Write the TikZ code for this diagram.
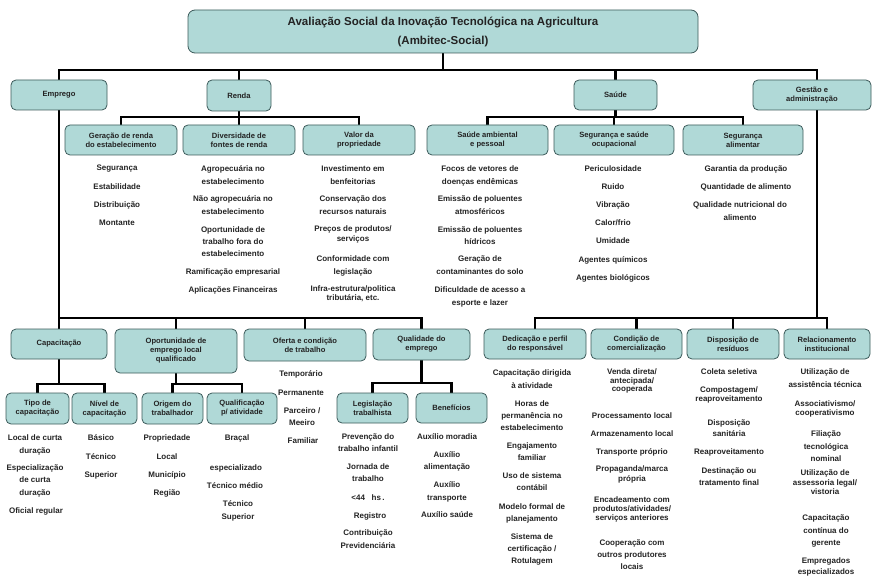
\documentclass[tikz,border=0pt]{standalone}
\usepackage{fontspec}
\setmainfont{Liberation Sans}
\usetikzlibrary{backgrounds}
\definecolor{boxfill}{RGB}{176,217,215}
\definecolor{boxline}{RGB}{60,90,90}
\definecolor{txt}{RGB}{35,35,35}
\tikzset{
  box/.style={draw=boxline, line width=0.8pt, fill=boxfill, rounded corners=5pt, align=center,
    inner sep=1pt, font=\fontsize{7.6}{9}\selectfont\bfseries, text=txt},
  lst/.style={align=center, inner sep=0pt, text=txt},
  conn/.style={line width=2.7pt, black},
}
\newcommand\mylist[5][12.5]{\node[lst,font=\fontsize{8}{#1}\selectfont\bfseries] (#2) at (#3,#4) {#5};}
\newcommand\mybox[6]{\node[box,minimum width=#4pt,minimum height=#5pt] (#1) at (#2,#3) {#6};}
\begin{document}
\begin{tikzpicture}[x=1pt,y=-1pt]
\useasboundingbox (0,0) rectangle (872,577);
% title
\node[box, font=\fontsize{11.5}{19}\selectfont\bfseries, minimum width=510pt, minimum height=43pt, rounded corners=7pt] (title) at (443,31.5)
  {Avaliação Social da Inovação Tecnológica na Agricultura\\(Ambitec-Social)};
% level 1
\mybox{emprego}{59}{95}{96}{30}{Emprego}
\mybox{renda}{239}{95.5}{64}{31}{\raisebox{-2pt}{Renda}}
\mybox{saude}{615.5}{95}{83}{30}{Saúde}
\mybox{gestao}{812}{95}{118}{30}{Gestão e\\administração}
% renda / saude children
\mybox{geracao}{121}{140}{112}{30}{Geração de renda\\do estabelecimento}
\mybox{diversidade}{239}{140}{112}{30}{Diversidade de\\fontes de renda}
\mybox{valor}{359}{140}{112}{30}{Valor da\\propriedade}
\mybox{sambiental}{487.5}{140}{121}{30}{Saúde ambiental\\e pessoal}
\mybox{segocup}{614}{140}{120}{30}{Segurança e saúde\\ocupacional}
\mybox{segalim}{743}{140}{120}{30}{Segurança\\alimentar}
% emprego / gestao children
\mybox{capacitacao}{59}{344}{96}{30}{Capacitação}
\mybox{oportunidade}{176}{351}{122}{44}{Oportunidade de\\emprego local\\qualificado}
\mybox{oferta}{305}{345}{122}{32}{Oferta e condição\\de trabalho}
\mybox{qualidade}{421.5}{344.5}{97}{31}{Qualidade do\\emprego}
\mybox{dedicacao}{535}{344}{102}{30}{Dedicação e perfil\\do responsável}
\mybox{condicao}{636.5}{344}{91}{30}{Condição de\\comercialização}
\mybox{disposicao}{733}{344}{92}{30}{Disposição de\\resíduos}
\mybox{relacionamento}{827}{344}{86}{30}{Relacionamento\\institucional}
% third level
\mybox{tipo}{37.5}{408.5}{63}{31}{Tipo de\\capacitação}
\mybox{nivel}{104.5}{408.5}{65}{31}{Nível de\\capacitação}
\mybox{origem}{172.5}{408.5}{61}{31}{Origem do\\trabalhador}
\mybox{qualif}{242}{408.5}{70}{31}{Qualificação\\p/ atividade}
\mybox{legislacao}{372.5}{408}{71}{30}{Legislação\\trabalhista}
\mybox{beneficios}{451.5}{408}{71}{30}{Benefícios}
% connectors
\coordinate (bar0) at (0,70);
\coordinate (bar1) at (0,117);
\coordinate (bar2) at (0,318);
\coordinate (bar3) at (0,384);
\coordinate (bar4) at (0,383);
\coordinate (gtop) at ([xshift=5pt]gestao.north);
\coordinate (gbot) at ([xshift=5pt]gestao.south);
\begin{pgfonlayer}{background}
\foreach \c in {emprego,renda,saude,gtop}
  \draw[conn] (title.south) -- (title.south |- bar0) -| (\c);
\foreach \c in {geracao,diversidade,valor}
  \draw[conn] (renda.south) -- (renda.south |- bar1) -| (\c.north);
\foreach \c in {sambiental,segocup,segalim}
  \draw[conn] (saude.south) -- (saude.south |- bar1) -| (\c.north);
\foreach \c in {capacitacao,oportunidade,oferta,qualidade}
  \draw[conn] (emprego.south) -- (emprego.south |- bar2) -| (\c.north);
\foreach \c in {dedicacao,condicao,disposicao,relacionamento}
  \draw[conn] (gbot) -- (gbot |- bar2) -| (\c.north);
\foreach \c in {tipo,nivel}
  \draw[conn] (capacitacao.south) -- (capacitacao.south |- bar3) -| (\c.north);
\foreach \c in {origem,qualif}
  \draw[conn] (oportunidade.south) -- (oportunidade.south |- bar3) -| (\c.north);
\foreach \c in {legislacao,beneficios}
  \draw[conn] (qualidade.south) -- (qualidade.south |- bar4) -| (\c.north);
\end{pgfonlayer}
% lists: geracao
\mylist{g1}{117}{169}{Segurança}
\mylist{g2}{117}{187}{Estabilidade}
\mylist{g3}{117}{205}{Distribuição}
\mylist{g4}{117}{223}{Montante}
% diversidade
\mylist[13]{d1}{233}{175.5}{Agropecuária no\\estabelecimento}
\mylist[13]{d2}{233}{205.5}{Não agropecuária no\\estabelecimento}
\mylist[12]{d3}{233}{242}{Oportunidade de\\trabalho fora do\\estabelecimento}
\mylist{d4}{233}{272}{Ramificação empresarial}
\mylist{d5}{233}{290}{Aplicações Financeiras}
% valor
\mylist[13]{v1}{353}{175.5}{Investimento em\\benfeitorias}
\mylist[13]{v2}{353}{205.5}{Conservação dos\\recursos naturais}
\mylist[9.5]{v3}{353}{234.5}{Preços de produtos/\\serviços}
\mylist[13]{v4}{353}{265.5}{Conformidade com\\legislação}
\mylist[9.5]{v5}{353}{293.5}{Infra-estrutura/politica\\tributária, etc.}
% saude ambiental
\mylist[13]{s1}{480}{175.5}{Focos de vetores de\\doenças endêmicas}
\mylist[13]{s2}{480}{205.5}{Emissão de poluentes\\atmosféricos}
\mylist[12]{s3}{480}{236}{Emissão de poluentes\\hídricos}
\mylist[13]{s4}{480}{265.5}{Geração de\\contaminantes do solo}
\mylist[13]{s5}{480}{296.5}{Dificuldade de acesso a\\esporte e lazer}
% seguranca ocupacional
\mylist{o1}{613}{169}{Periculosidade}
\mylist{o2}{613}{187}{Ruido}
\mylist{o3}{613}{205}{Vibração}
\mylist{o4}{613}{223}{Calor/frio}
\mylist{o5}{613}{241}{Umidade}
\mylist{o6}{613}{260}{Agentes químicos}
\mylist{o7}{613}{278}{Agentes biológicos}
% seguranca alimentar
\mylist{a1}{746}{169}{Garantia da produção}
\mylist{a2}{746}{187}{Quantidade de alimento}
\mylist[13]{a3}{740}{211.5}{Qualidade nutricional do\\alimento}
% tipo
\mylist[13]{t1}{35}{444.5}{Local de curta\\duração}
\mylist[12.5]{t2}{35}{480.5}{Especialização\\de curta\\duração}
\mylist{t3}{36}{511}{Oficial regular}
% nivel
\mylist{n1}{101}{438}{Básico}
\mylist{n2}{101}{457}{Técnico}
\mylist{n3}{101}{475}{Superior}
% origem
\mylist{r1}{167}{438}{Propriedade}
\mylist{r2}{167}{457}{Local}
\mylist{r3}{167}{475}{Município}
\mylist{r4}{167}{493}{Região}
% qualificacao
\mylist{q1}{237}{438}{Braçal}
\mylist{q2}{236}{468}{especializado}
\mylist{q3}{235}{486}{Técnico médio}
\mylist[13]{q4}{238}{510.5}{Técnico\\Superior}
% oferta
\mylist{f1}{301}{374}{Temporário}
\mylist{f2}{301}{393}{Permanente}
\mylist[12]{f3}{302}{417}{Parceiro /\\Meeiro}
\mylist{f4}{303}{441}{Familiar}
% legislacao
\mylist[12]{l1}{368}{443}{Prevenção do\\trabalho infantil}
\mylist[12]{l2}{368}{473}{Jornada de\\trabalho}
\mylist{l3}{368}{498}{<44\ \ \ hs\,.}
\mylist{l4}{370}{516}{Registro}
\mylist[13]{l5}{368}{539.5}{Contribuição\\Previdenciária}
% beneficios
\mylist{b1}{447}{437}{Auxílio moradia}
\mylist[12]{b2}{447}{461}{Auxílio\\alimentação}
\mylist[13]{b3}{447}{491.5}{Auxílio\\transporte}
\mylist{b4}{447}{515}{Auxílio saúde}
% dedicacao
\mylist[13]{e1}{532}{379.5}{Capacitação dirigida\\à atividade}
\mylist[12]{e2}{532}{416}{Horas de\\permanência no\\estabelecimento}
\mylist[12]{e3}{532}{452}{Engajamento\\familiar}
\mylist[12]{e4}{532}{482}{Uso de sistema\\contábil}
\mylist[12]{e5}{532}{513}{Modelo formal de\\planejamento}
\mylist[12]{e6}{532}{549}{Sistema de\\certificação /\\Rotulagem}
% condicao
\mylist[8.5]{c1}{632}{381}{Venda direta/\\antecipada/\\cooperada}
\mylist{c2}{632}{416}{Processamento local}
\mylist{c3}{632}{434}{Armazenamento local}
\mylist{c4}{632}{452}{Transporte próprio}
\mylist[10]{c5}{632}{474}{Propaganda/marca\\própria}
\mylist[9]{c6}{632}{509}{Encadeamento com\\produtos/atividades/\\serviços anteriores}
\mylist[12]{c7}{632}{555}{Cooperação com\\outros produtores\\locais}
% disposicao
\mylist{p1}{729}{372}{Coleta seletiva}
\mylist[9]{p2}{729}{394.5}{Compostagem/\\reaproveitamento}
\mylist[11]{p3}{729}{428.5}{Disposição\\sanitária}
\mylist{p4}{729}{452}{Reaproveitamento}
\mylist[12]{p5}{729}{477}{Destinação ou\\tratamento final}
% relacionamento
\mylist[13]{i1}{825}{378.5}{Utilização de\\assistência técnica}
\mylist[9]{i2}{825}{408.5}{Associativismo/\\cooperativismo}
\mylist[12.5]{i3}{826}{446.5}{Filiação\\tecnológica\\nominal}
\mylist[9.5]{i4}{825}{482.5}{Utilização de\\assessoria legal/\\vistoria}
\mylist[12.5]{i5}{826}{531}{Capacitação\\contínua do\\gerente}
\mylist[11]{i6}{826}{566.5}{Empregados\\especializados}
\end{tikzpicture}
\end{document}
